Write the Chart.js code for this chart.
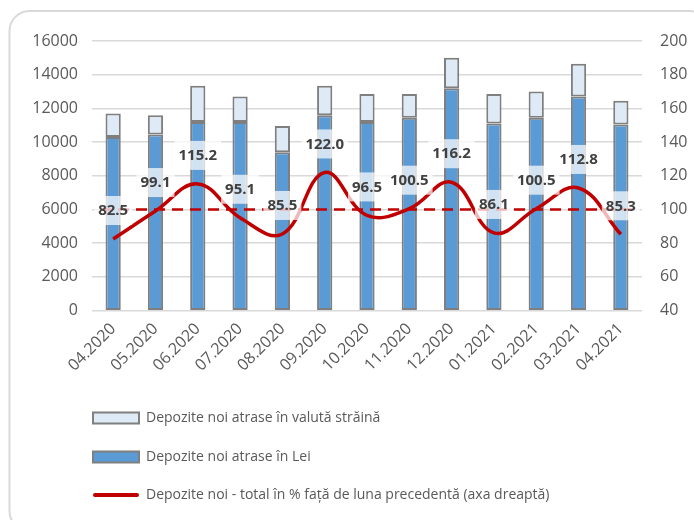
<!DOCTYPE html>
<html>
<head>
<meta charset="utf-8">
<script src="https://cdn.jsdelivr.net/npm/chart.js@4/dist/chart.umd.min.js"></script>
<style>
  html, body { margin: 0; padding: 0; background: #fff; }
  #wrap { width: 694px; height: 520px; }
</style>
</head>
<body>
<div id="wrap"><canvas id="depChart" width="694" height="520"></canvas></div>
<script>
// ======= Data =======
const luni = ['04.2020', '05.2020', '06.2020', '07.2020', '08.2020', '09.2020', '10.2020',
  '11.2020', '12.2020', '01.2021', '02.2021', '03.2021', '04.2021'];
const depLei = [10300, 10450, 11200, 11200, 9400, 11600, 11200, 11450, 13200, 11100, 11450, 12700, 11050];
const depValuta = [1400, 1150, 2150, 1500, 1550, 1750, 1650, 1400, 1800, 1750, 1550, 1950, 1400];
const depProcent = [82.5, 99.1, 115.2, 95.1, 85.5, 122.0, 96.5, 100.5, 116.2, 86.1, 100.5, 112.8, 85.3];
const pragProcent = 100;

const gri = '#595959';
const fontBase = 'Open Sans';

// rama rotunjita + fundal
const framePlugin = {
  id: 'frame',
  beforeDraw(chart) {
    const ctx = chart.ctx;
    ctx.save();
    ctx.fillStyle = '#fff';
    ctx.fillRect(0, 0, chart.width, chart.height);
    ctx.beginPath();
    ctx.roundRect(9.5, 11, 700, 520, 20);
    ctx.strokeStyle = '#d9d9d9';
    ctx.lineWidth = 2;
    ctx.stroke();
    ctx.restore();
  }
};

// linia punctata la 100% + etichetele liniei
const overlayPlugin = {
  id: 'overlay',
  afterDatasetsDraw(chart) {
    const ctx = chart.ctx;
    const area = chart.chartArea;
    const y1 = chart.scales.y1;
    const yp = y1.getPixelForValue(pragProcent);
    ctx.save();
    ctx.beginPath();
    ctx.setLineDash([11, 7]);
    ctx.moveTo(area.left + 8, yp);
    ctx.lineTo(area.right - 5, yp);
    ctx.strokeStyle = '#c00000';
    ctx.lineWidth = 2.5;
    ctx.stroke();
    ctx.setLineDash([]);

    const meta = chart.getDatasetMeta(2);
    ctx.font = 'bold 15px "' + fontBase + '"';
    ctx.textAlign = 'center';
    ctx.textBaseline = 'middle';
    meta.data.forEach((pt, i) => {
      const txt = depProcent[i].toFixed(1);
      const w = ctx.measureText(txt).width + 8;
      const cy = pt.y - 29;
      ctx.fillStyle = 'rgba(255,255,255,0.72)';
      ctx.fillRect(pt.x - w / 2, cy - 14, w, 29);
      ctx.fillStyle = '#404040';
      ctx.fillText(txt, pt.x, cy + 1);
    });
    ctx.restore();
  }
};

// legenda verticala, jos
const legendPlugin = {
  id: 'stackLegend',
  afterDraw(chart) {
    const ctx = chart.ctx;
    const ds = chart.data.datasets;
    const items = [ds[1], ds[0], ds[2]];
    const x0 = 93, ys = [418, 457, 495];
    ctx.save();
    ctx.font = '14px "' + fontBase + '"';
    ctx.textBaseline = 'middle';
    ctx.textAlign = 'left';
    items.forEach((d, i) => {
      const y = ys[i];
      if (d.type === 'line') {
        ctx.beginPath();
        ctx.moveTo(x0 + 2, y);
        ctx.lineTo(x0 + 44, y);
        ctx.strokeStyle = d.borderColor;
        ctx.lineWidth = 4;
        ctx.lineCap = 'round';
        ctx.stroke();
      } else {
        ctx.fillStyle = d.backgroundColor;
        ctx.fillRect(x0, y - 5.5, 46, 11);
        ctx.strokeStyle = d.borderColor;
        ctx.lineWidth = 2;
        ctx.strokeRect(x0, y - 5.5, 46, 11);
      }
      ctx.fillStyle = gri;
      ctx.fillText(d.label, x0 + 53, y);
    });
    ctx.restore();
  }
};

const ctx = document.getElementById('depChart');
new Chart(ctx.getContext('2d'), {
  type: 'bar',
  data: {
    labels: luni,
    datasets: [
      {
        label: 'Depozite noi atrase în Lei',
        data: depLei,
        backgroundColor: '#5b9bd5',
        borderColor: '#7f7f7f',
        borderWidth: 2,
        borderSkipped: false,
        yAxisID: 'y',
        order: 1
      },
      {
        label: 'Depozite noi atrase în valută străină',
        data: depValuta,
        backgroundColor: '#deebf7',
        borderColor: '#7f7f7f',
        borderWidth: 2,
        borderSkipped: false,
        yAxisID: 'y',
        order: 2
      },
      {
        type: 'line',
        label: 'Depozite noi - total în % față de luna precedentă (axa dreaptă)',
        data: depProcent,
        borderColor: '#c00000',
        backgroundColor: '#c00000',
        borderWidth: 3.5,
        pointRadius: 0,
        tension: 0.4,
        fill: false,
        yAxisID: 'y1',
        order: 0
      }
    ]
  },
  options: {
    responsive: false,
    animation: false,
    layout: { padding: { top: 41, left: 0, right: 0, bottom: 136 } },
    datasets: { bar: { categoryPercentage: 1, barPercentage: 0.36 } },
    plugins: {
      legend: { display: false },
      tooltip: { enabled: false }
    },
    scales: {
      x: {
        stacked: true,
        grid: { display: false, drawTicks: false },
        border: { display: false },
        ticks: {
          color: gri,
          font: { family: fontBase, size: 16 },
          minRotation: 45,
          maxRotation: 45,
          padding: 9
        }
      },
      y: {
        stacked: true,
        min: 0,
        max: 16000,
        afterFit: s => { s.width = 92; },
        grid: { color: '#d9d9d9', lineWidth: 1.5, drawTicks: false },
        border: { display: false },
        ticks: {
          stepSize: 2000,
          color: gri,
          font: { family: fontBase, size: 16 },
          padding: 14,
          callback: v => String(v)
        }
      },
      y1: {
        position: 'right',
        min: 40,
        max: 200,
        afterFit: s => { s.width = 52; },
        grid: { display: false, drawTicks: false },
        border: { display: false },
        ticks: {
          stepSize: 20,
          color: gri,
          font: { family: fontBase, size: 16 },
          padding: 18
        }
      }
    }
  },
  plugins: [framePlugin, overlayPlugin, legendPlugin]
});
</script>
</body>
</html>
